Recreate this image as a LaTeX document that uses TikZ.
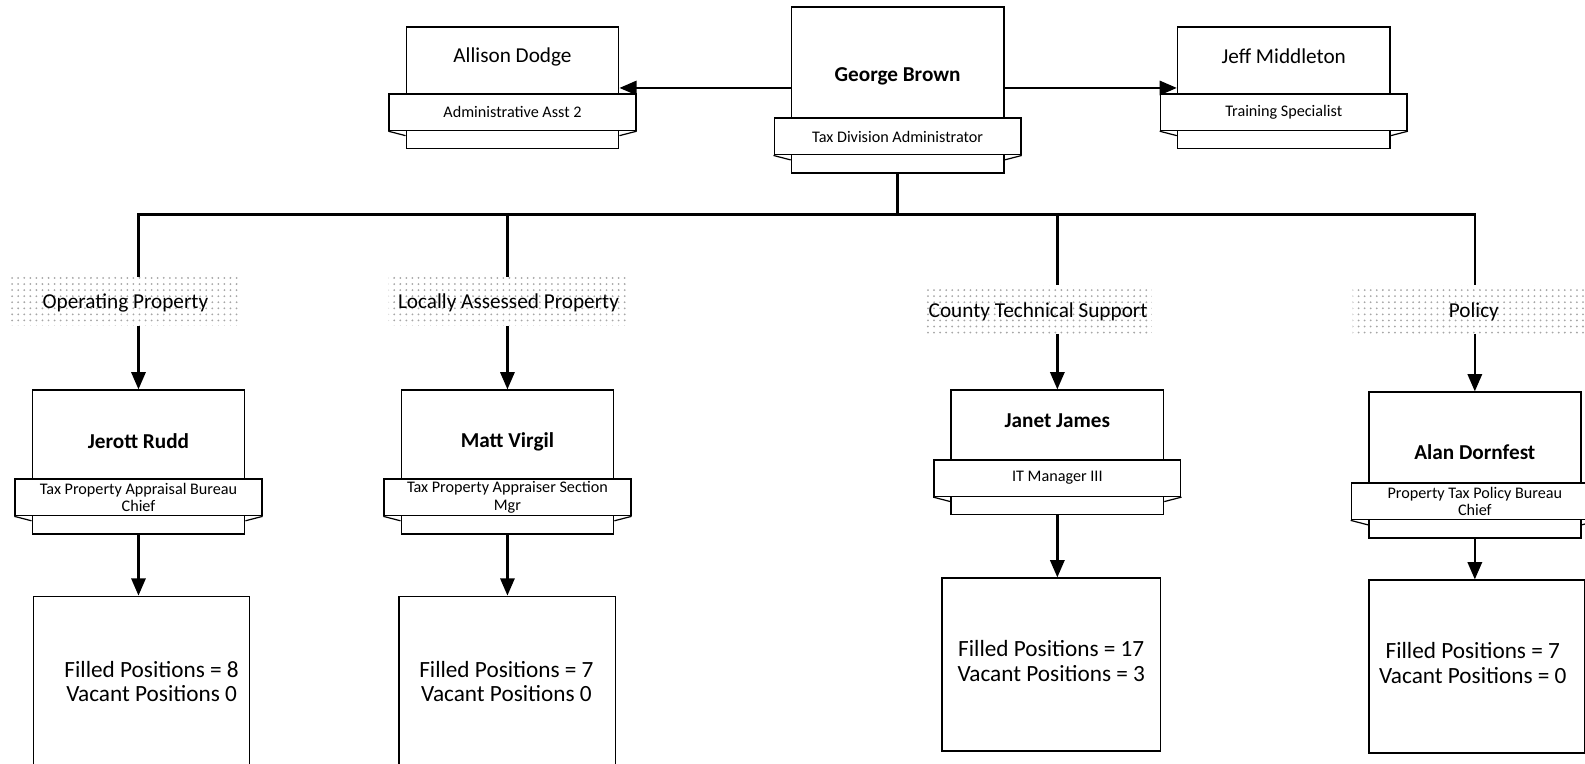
\documentclass[tikz,border=0pt]{standalone}
\usepackage{fontspec}
\setmainfont{Carlito}
\usetikzlibrary{arrows.meta,patterns}
\tikzset{
  box/.style={draw, line width=0.8pt, fill=white, inner sep=0pt},
  conn/.style={line width=1.2pt},
  arr/.style={conn, -{Triangle[width=7pt,length=8.5pt]}},
  nm/.style={font=\fontsize{10.5}{12}\selectfont, inner sep=0pt},
  bann/.style={box, align=center, font=\fontsize{8}{8.5}\selectfont},
  sect/.style={pattern=dots, pattern color=gray!70, inner sep=0pt, font=\fontsize{10.5}{12}\selectfont},
  cnt/.style={align=center, inner sep=0pt, font=\fontsize{11.5}{12}\selectfont},
  fold/.style={line width=0.6pt}
}
% #1 name, #2 cx, #3 top, #4 main height, #5 name y, #6 name text, #7 banner text
\newcommand\posn[7]{%
  \pgfmathsetmacro\mc{#3+#4/2}%
  \pgfmathsetmacro\bc{#3+#4+18}%
  \pgfmathsetmacro\lc{#3+#4+36+9}%
  \node[box, minimum width=210*0.5pt, minimum height=18*0.5pt] (#1-l) at (#2,\lc) {};
  \node[box, minimum width=210*0.5pt, minimum height=#4*0.5pt] (#1) at (#2,\mc) {};
  \node[bann, minimum width=244*0.5pt, minimum height=36*0.5pt] (#1-b) at (#2,\bc) {#7};
  \draw[fold] (#1-b.south west) -- ([yshift=-3pt]#1-l.north west);
  \draw[fold] (#1-b.south east) -- ([yshift=-3pt]#1-l.north east);
  \node[nm] (#1-n) at (#2,#5) {#6};
}
\begin{document}
\begin{tikzpicture}[x=0.5pt,y=-0.5pt]
\useasboundingbox (0,0) rectangle (1568,755);
\clip (0,0) rectangle (1568,755);

% top level
\posn{gb}{888}{7}{110}{76}{\bfseries George Brown}{Tax Division Administrator}
\posn{ad}{507}{27}{66}{56}{Allison Dodge}{Administrative Asst 2}
\posn{jm}{1270}{27}{66}{56}{Jeff Middleton}{Training Specialist}

\coordinate (hy) at (0,87);
\draw[arr] (gb.west |- hy) -- (ad.east |- hy);
\draw[arr] (gb.east |- hy) -- (jm.west |- hy);

% section labels
\node[sect, minimum width=228*0.5pt, minimum height=48*0.5pt] (op) at (122,298) {};
\node[nm] (op-t) at (124,300) {Operating Property};
\node[sect, minimum width=235*0.5pt, minimum height=48*0.5pt] (la) at (502,298) {};
\node[nm] (la-t) at (503,300) {Locally Assessed Property};
\node[sect, minimum width=225*0.5pt, minimum height=48*0.5pt] (ct) at (1027,306) {};
\node[nm] (ct-t) at (1027,308) {County Technical Support};
\node[sect, minimum width=230*0.5pt, minimum height=48*0.5pt] (po) at (1453,306) {};
\node[nm] (po-t) at (1458,308) {Policy};

% second level
\posn{jr}{137}{386}{88}{436}{\bfseries Jerott Rudd}{Tax Property Appraisal Bureau\\Chief}
\posn{mv}{502}{386}{88}{437}{\bfseries Matt Virgil}{Tax Property Appraiser Section\\Mgr}
\posn{jj}{1046}{386}{69}{416}{\bfseries Janet James}{IT Manager III}
\posn{an}{1459}{388}{90}{447}{\bfseries Alan Dornfest}{Property Tax Policy Bureau\\Chief}

% bus
\coordinate (bus) at (888,212);
\draw[conn] (gb-l.south) -- (bus);
\draw[conn] (jr.north |- op.north) -- (jr.north |- bus) -- (an.north |- bus) -- (an.north |- po.north);
\draw[conn] (mv.north |- bus) -- (mv.north |- la.north);
\draw[conn] (jj.north |- bus) -- (jj.north |- ct.north);

\draw[arr] (jr.north |- op.south) -- (jr.north);
\draw[arr] (mv.north |- la.south) -- (mv.north);
\draw[arr] (jj.north |- ct.south) -- (jj.north);
\draw[arr] (an.north |- po.south) -- (an.north);

% count boxes
\node[box, minimum width=214*0.5pt, minimum height=190*0.5pt] (jr-c) at (140,685) {};
\node[cnt] (jr-ct) at (150,674) {Filled Positions = 8\\Vacant Positions 0};
\node[box, minimum width=214*0.5pt, minimum height=190*0.5pt] (mv-c) at (502,685) {};
\node[cnt] (mv-ct) at (501,674) {Filled Positions = 7\\Vacant Positions 0};
\node[box, minimum width=216*0.5pt, minimum height=171*0.5pt] (jj-c) at (1040,657.5) {};
\node[cnt] (jj-ct) at (1040,654) {Filled Positions = 17\\Vacant Positions = 3};
\node[box, minimum width=214*0.5pt, minimum height=171*0.5pt] (an-c) at (1461,659.5) {};
\node[cnt] (an-ct) at (1457,656) {Filled Positions = 7\\Vacant Positions = 0};

\draw[arr] (jr-l.south) -- (jr-c.north -| jr-l.south);
\draw[arr] (mv-l.south) -- (mv-c.north -| mv-l.south);
\draw[arr] (jj-l.south) -- (jj-c.north -| jj-l.south);
\draw[arr] (an-l.south) -- (an-c.north -| an-l.south);
\end{tikzpicture}
\end{document}
